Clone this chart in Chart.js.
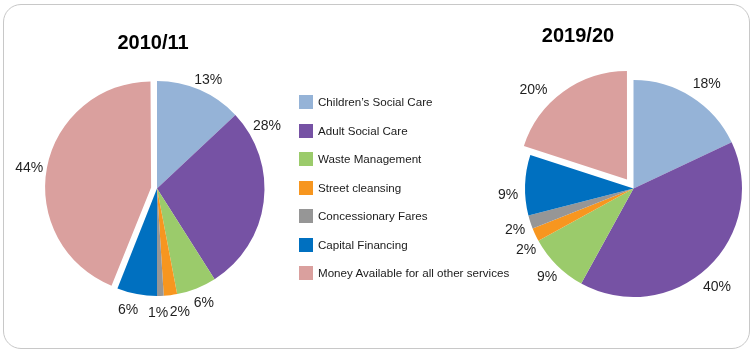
<!DOCTYPE html>
<html>
<head>
<meta charset="utf-8">
<script src="https://cdn.jsdelivr.net/npm/chart.js@4.4.1/dist/chart.umd.min.js"></script>
<style>
  html, body { margin:0; padding:0; width:756px; height:353px; overflow:hidden; background:#fff; font-family:"Liberation Sans", Arial, sans-serif; }
  #frame { position:absolute; left:3px; top:4px; width:747px; height:345px; border:1px solid #c8c8c8; border-radius:18px; box-sizing:border-box; }
  canvas.pie { position:absolute; left:0; top:0; }
  .title { position:absolute; font-weight:bold; font-size:20px; color:#000; transform:translate(-50%,-50%); white-space:nowrap; }
  #legend { position:absolute; left:299px; top:0; }
  .lg { position:absolute; left:0; height:14px; white-space:nowrap; font-size:11.6px; color:#1a1a1a; }
  .sw { position:absolute; left:0; top:0; width:14px; height:14px; }
  .lt { position:absolute; left:19px; top:0; line-height:14px; }
</style>
</head>
<body>
<div id="frame"></div>
<canvas id="c1" class="pie" width="756" height="353"></canvas>
<canvas id="c2" class="pie" width="756" height="353"></canvas>
<div class="title" id="t1" style="left:153px; top:42px;"></div>
<div class="title" id="t2" style="left:578px; top:35px;"></div>
<div id="legend"></div>
<script>
// ---- data ----
const categories = ["Children\u2019s Social Care", "Adult Social Care", "Waste Management", "Street cleansing", "Concessionary Fares", "Capital Financing", "Money Available for all other services"];
const titles = ["2010/11", "2019/20"];
const values2010 = [13, 28, 6, 2, 1, 6, 44];
const values2019 = [18, 40, 9, 2, 2, 9, 20];

// ---- styles ----
const colors = ["#95B3D7", "#7652A4", "#9BCB6B", "#F7961F", "#969696", "#0070C0", "#DAA09E"];
const labelFont = '14px "Liberation Sans", Arial, sans-serif';

document.getElementById('t1').textContent = titles[0];
document.getElementById('t2').textContent = titles[1];

// legend
const lg = document.getElementById('legend');
categories.forEach((c, i) => {
  const d = document.createElement('div');
  d.className = 'lg';
  d.style.top = (95 + i * 28.5) + 'px';
  d.innerHTML = '<div class="sw" style="background:' + colors[i] + '"></div><div class="lt"></div>';
  d.querySelector('.lt').textContent = c;
  lg.appendChild(d);
});

// keep exploded slices at (almost) the same radius as the others
const explodeRadius = {
  id: 'explodeRadius',
  beforeDatasetsDraw(chart, args, opts) {
    const meta = chart.getDatasetMeta(0);
    const R = meta.controller.outerRadius;
    meta.data.forEach(arc => {
      const off = arc.options.offset || 0;
      if (off > 0) {
        const circ = arc.endAngle - arc.startAngle;
        const fix = 1 - Math.sin(Math.min(Math.PI, circ));
        arc.outerRadius = R - opts.shrink - (off / 4) * fix;
      }
    });
  }
};

const pctLabels = {
  id: 'pctLabels',
  afterDatasetsDraw(chart, args, opts) {
    const meta = chart.getDatasetMeta(0);
    const R = meta.controller.outerRadius;
    const ds = chart.data.datasets[0];
    const ctx = chart.ctx;
    ctx.save();
    ctx.font = labelFont;
    ctx.fillStyle = '#1f1f1f';
    ctx.textAlign = 'center';
    ctx.textBaseline = 'middle';
    meta.data.forEach((arc, i) => {
      const p = arc.getProps(['x', 'y', 'startAngle', 'endAngle'], true);
      const a = p.startAngle + opts.frac[i] * (p.endAngle - p.startAngle);
      const r = R + opts.dist[i];
      ctx.fillText(ds.data[i] + '%', p.x + Math.cos(a) * r, p.y + Math.sin(a) * r);
    });
    ctx.restore();
  }
};

function makePie(id, values, padding, radius, offsets, shrink, frac, dist) {
  return new Chart(document.getElementById(id), {
    type: 'pie',
    data: {
      labels: categories,
      datasets: [{
        data: values,
        backgroundColor: colors,
        borderWidth: 0,
        offset: offsets,
        radius: radius
      }]
    },
    options: {
      responsive: false,
      animation: false,
      layout: { padding: padding },
      plugins: {
        legend: { display: false },
        tooltip: { enabled: false },
        explodeRadius: { shrink: shrink },
        pctLabels: { frac: frac, dist: dist }
      }
    },
    plugins: [explodeRadius, pctLabels]
  });
}

makePie('c1', values2010,
  { left: 0, right: 442, top: 24, bottom: 0 }, 107.5,
  [0, 0, 0, 0, 0, 0, 24], 1.5,
  [0.54, 0.135, 0.47, 0.04, 0.86, 0.62, 0.49],
  [12.5, 19, 16.5, 18, 17, 17.5, 22]);

makePie('c2', values2019,
  { left: 517, right: 6, top: 24, bottom: 0 }, 108.5,
  [0, 0, 0, 0, 0, 0, 44], 0,
  [0.54, 0.52, 0.48, -0.14, 0.32, 0.35, 0.37],
  [19.3, 20.5, 15.2, 15.3, 17, 17, 32]);
</script>
</body>
</html>
